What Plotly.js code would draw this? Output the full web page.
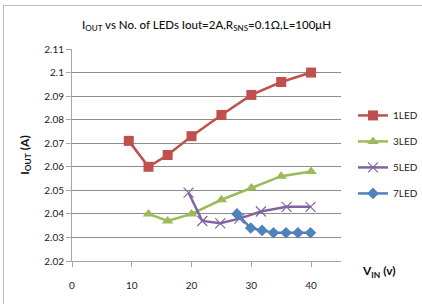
<!DOCTYPE html>
<html>
<head>
<meta charset="utf-8">
<script src="https://cdn.plot.ly/plotly-3.0.1.min.js"></script>
<style>
  html, body { margin: 0; padding: 0; background: #fff; }
  #chart { width: 422px; height: 304px; position: absolute; left: 0; top: 0; }
  #frame { position: absolute; left: 3px; top: 5px; width: 430px; height: 310px; border: 1px solid #bdbdbd; pointer-events: none; }
</style>
</head>
<body>
<div id="chart"></div>
<div id="frame"></div>
<script>
// Data
const seriesNames = ["1LED", "3LED", "5LED", "7LED"];
const vin1 = [9.5, 12.8, 16, 20, 25, 30, 35, 40];
const iout1 = [2.071, 2.060, 2.065, 2.073, 2.082, 2.0905, 2.096, 2.100];
const vin3 = [12.8, 16, 20, 25, 30, 35, 40];
const iout3 = [2.040, 2.037, 2.040, 2.046, 2.051, 2.056, 2.058];
const vin5 = [19.5, 21.8, 24.8, 28, 31.6, 35.9, 39.9];
const iout5 = [2.049, 2.037, 2.036, 2.038, 2.041, 2.043, 2.043];
const vin7 = [27.6, 29.9, 31.8, 33.7, 35.8, 37.8, 39.9];
const iout7 = [2.040, 2.034, 2.033, 2.032, 2.032, 2.032, 2.032];
const xTicks = [0, 10, 20, 30, 40];
const yTicks = [2.02, 2.03, 2.04, 2.05, 2.06, 2.07, 2.08, 2.09, 2.1, 2.11];

const colors = ["#C0504D", "#9BBB59", "#8064A2", "#4F81BD"];
const symbols = ["square", "triangle-up", "x-thin-open", "diamond"];
const sizes = [10, 10, 10, 9];
const xs = [vin1, vin3, vin5, vin7];
const ys = [iout1, iout3, iout5, iout7];

const FONT = "Lato, 'Liberation Sans', Arial, sans-serif";

const traces = seriesNames.map((n, i) => ({
  type: "scatter",
  mode: "lines+markers",
  name: n,
  legendgroup: "g" + i,
  x: xs[i],
  y: ys[i],
  line: { color: colors[i], width: 2.5 },
  marker: { symbol: symbols[i], size: sizes[i], color: colors[i],
            line: { color: colors[i], width: i === 2 ? 1.2 : 0 } }
}));

const layout = {
  width: 422, height: 304,
  margin: { l: 72, r: 81, t: 49, b: 43 },
  paper_bgcolor: "#ffffff",
  plot_bgcolor: "#ffffff",
  font: { family: FONT, size: 10, color: "#222" },
  showlegend: true,
  title: {
    text: "I<sub>OUT</sub> vs No. of LEDs Iout=2A,R<sub>SNS</sub>=0.1Ω,L=100μH",
    font: { family: FONT, size: 11.5, color: "#111", weight: 500 },
    x: 0.5, xref: "paper", xanchor: "center",
    y: 18, yref: "container", yanchor: "middle"
  },
  xaxis: {
    range: [0, 45],
    tickvals: xTicks,
    ticktext: xTicks.map(String),
    showgrid: false,
    zeroline: false,
    showline: true, linecolor: "#a6a6a6", linewidth: 1,
    ticks: "outside", ticklen: 5, tickcolor: "#a6a6a6",
    ticklabelstandoff: 10,
    tickfont: { family: FONT, size: 10, color: "#222" },
    automargin: false,
    fixedrange: true
  },
  yaxis: {
    range: [2.02, 2.11],
    tickvals: yTicks,
    ticktext: yTicks.map(v => String(v)),
    showgrid: true, gridcolor: "#8c8c8c", gridwidth: 1,
    zeroline: false,
    showline: true, linecolor: "#a6a6a6", linewidth: 1,
    ticks: "outside", ticklen: 5, tickcolor: "#a6a6a6",
    tickfont: { family: FONT, size: 10, color: "#222" },
    title: { text: "<b>I<sub>OUT</sub> (A)</b>", font: { family: FONT, size: 12, color: "#111" }, standoff: 12 },
    automargin: false,
    fixedrange: true
  },
  legend: {
    xref: "container", yref: "container",
    x: 0.8365, xanchor: "left",
    y: 0.668, yanchor: "top",
    bgcolor: "rgba(0,0,0,0)",
    font: { family: FONT, size: 10, color: "#222" },
    traceorder: "grouped",
    tracegroupgap: 7,
    itemwidth: 30
  },
  annotations: [{
    text: "<b>V<sub>IN</sub> (v)</b>",
    xref: "paper", yref: "paper",
    x: 1.07, y: -0.05, xanchor: "left", yanchor: "middle",
    showarrow: false,
    font: { family: FONT, size: 12, color: "#111" }
  }]
};

Plotly.newPlot("chart", traces, layout, { displayModeBar: false, staticPlot: true });
</script>
</body>
</html>
